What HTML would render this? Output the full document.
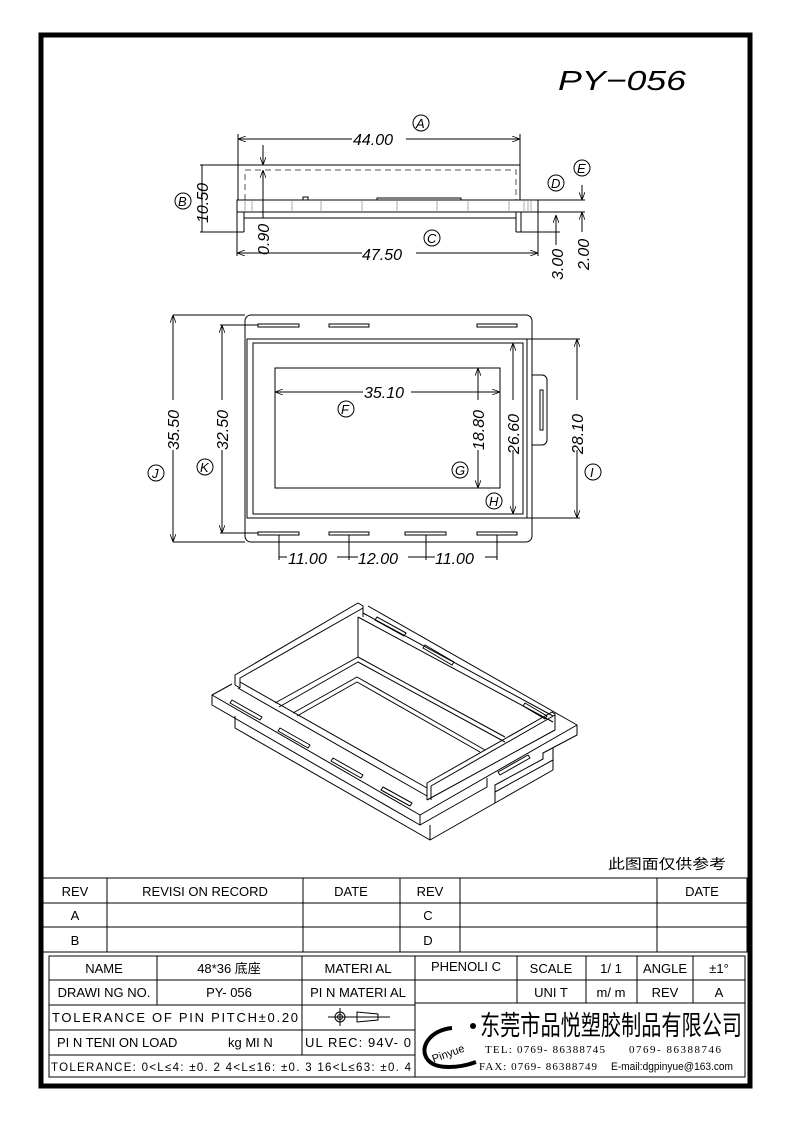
<!DOCTYPE html>
<html><head><meta charset="utf-8"><style>
html,body{margin:0;padding:0;background:#fff;}
svg{display:block;}
text{font-family:"Liberation Sans","Noto Sans CJK SC",sans-serif;fill:#000;}
.t{font-family:"Liberation Serif","Noto Serif CJK SC",serif;}
</style></head><body>
<svg width="793" height="1123" viewBox="0 0 793 1123" xmlns="http://www.w3.org/2000/svg">
<defs>
<marker id="a" markerWidth="8" markerHeight="6" refX="8" refY="3" orient="auto-start-reverse" markerUnits="userSpaceOnUse"><path d="M0,0 L8,3 L0,6" fill="none" stroke="#000" stroke-width="0.8"/></marker>
</defs>
<rect x="0" y="0" width="793" height="1123" fill="#fff"/>
<rect x="41" y="35" width="709" height="1051" fill="none" stroke="#000" stroke-width="5"/>
<text x="558" y="90" font-size="28" font-style="italic" textLength="128" lengthAdjust="spacingAndGlyphs">PY−056</text>

<!-- TOP VIEW -->
<g fill="none" stroke="#000" stroke-width="1">
<line x1="238" y1="139" x2="520" y2="139" marker-start="url(#a)" marker-end="url(#a)"/>
<line x1="238" y1="134" x2="238" y2="200"/>
<line x1="520" y1="134" x2="520" y2="200"/>
<line x1="200" y1="165" x2="520" y2="165"/>
<path d="M245,200 V170 H516 V200" stroke-dasharray="6,4" stroke="#555"/>
<rect x="237" y="200" width="301" height="12"/>
<line x1="244" y1="212" x2="244" y2="232"/>
<line x1="237" y1="212" x2="237" y2="256"/>
<line x1="516" y1="212" x2="516" y2="232"/>
<line x1="521" y1="212" x2="521" y2="232"/>
<line x1="538" y1="212" x2="538" y2="256"/>
<line x1="200" y1="232" x2="244" y2="232"/>
<line x1="516" y1="232" x2="560" y2="232"/>
<line x1="244" y1="218" x2="516" y2="218"/>
<line x1="237" y1="253" x2="538" y2="253" marker-start="url(#a)" marker-end="url(#a)"/>
<line x1="202" y1="165" x2="202" y2="232"/>
<line x1="263" y1="145" x2="263" y2="165" marker-end="url(#a)"/>
<line x1="263" y1="218" x2="263" y2="170" marker-end="url(#a)"/>
<line x1="538" y1="200" x2="585" y2="200"/>
<line x1="538" y1="212" x2="585" y2="212"/>
<line x1="582" y1="185" x2="582" y2="200" marker-end="url(#a)"/>
<line x1="582" y1="232" x2="582" y2="212" marker-end="url(#a)"/>
<line x1="556" y1="245" x2="556" y2="232"/>
<line x1="556" y1="215" x2="556" y2="232" marker-start="url(#a)"/>
<path d="M303,200 v-3 h5 v3 M377,200 v-2 h84 v2"/>
<g stroke="#888" stroke-width="0.7"><line x1="245" y1="200" x2="245" y2="212"/><line x1="252" y1="200" x2="252" y2="212"/><line x1="292" y1="200" x2="292" y2="212"/><line x1="321" y1="200" x2="321" y2="212"/><line x1="362" y1="200" x2="362" y2="212"/><line x1="397" y1="200" x2="397" y2="212"/><line x1="437" y1="200" x2="437" y2="212"/><line x1="468" y1="200" x2="468" y2="212"/><line x1="509" y1="200" x2="509" y2="212"/><line x1="524" y1="200" x2="524" y2="212"/><line x1="528" y1="200" x2="528" y2="212"/><line x1="531" y1="200" x2="531" y2="212"/></g>
<circle cx="421" cy="123" r="8"/><circle cx="183" cy="201" r="8"/><circle cx="432" cy="238" r="8"/><circle cx="556" cy="183" r="8"/><circle cx="582" cy="168" r="8"/>
</g>
<g font-size="16" font-style="italic">
<rect x="352" y="131" width="54" height="14" fill="#fff"/>
<text x="353" y="145">44.00</text>
<rect x="362" y="246" width="54" height="14" fill="#fff"/>
<text x="362" y="260">47.50</text>
<text transform="translate(208,223) rotate(-90)">10.50</text>
<text transform="translate(269,255) rotate(-90)">0.90</text>
<text transform="translate(563,280) rotate(-90)">3.00</text>
<text transform="translate(589,270) rotate(-90)">2.00</text>
</g>
<g font-size="13" font-style="italic" class="t">
<text x="416" y="128">A</text><text x="178" y="206">B</text><text x="427" y="243">C</text><text x="551" y="188">D</text><text x="577" y="173">E</text>
</g>

<!-- MIDDLE VIEW -->
<g fill="none" stroke="#000" stroke-width="1">
<rect x="245" y="315" width="287" height="227" rx="6"/>
<rect x="247" y="339" width="280" height="179"/>
<rect x="253" y="343" width="270" height="171"/>
<path d="M532,375 h10 a5,5 0 0 1 5,5 v60 a5,5 0 0 1 -5,5 h-10"/>
<rect x="540" y="390" width="3" height="40"/>
<rect x="275" y="368" width="225" height="120"/>
<rect x="258" y="324" width="41" height="3"/><rect x="329" y="324" width="40" height="3"/><rect x="477" y="324" width="40" height="3"/>
<rect x="258" y="532" width="41" height="3"/><rect x="329" y="532" width="40" height="3"/><rect x="405" y="532" width="41" height="3"/><rect x="477" y="532" width="40" height="3"/>
<line x1="173" y1="315" x2="245" y2="315"/><line x1="173" y1="542" x2="245" y2="542"/>
<line x1="173" y1="315" x2="173" y2="542" marker-start="url(#a)" marker-end="url(#a)"/>
<line x1="220" y1="325" x2="258" y2="325"/><line x1="220" y1="533" x2="258" y2="533"/>
<line x1="222" y1="325" x2="222" y2="533" marker-start="url(#a)" marker-end="url(#a)"/>
<line x1="275" y1="392" x2="500" y2="392" marker-start="url(#a)" marker-end="url(#a)"/>
<line x1="478" y1="368" x2="478" y2="488" marker-start="url(#a)" marker-end="url(#a)"/>
<line x1="513" y1="343" x2="513" y2="514" marker-start="url(#a)" marker-end="url(#a)"/>
<line x1="527" y1="339" x2="580" y2="339"/><line x1="527" y1="518" x2="580" y2="518"/>
<line x1="577" y1="339" x2="577" y2="518" marker-start="url(#a)" marker-end="url(#a)"/>
<line x1="279" y1="535" x2="279" y2="560"/><line x1="349" y1="535" x2="349" y2="560"/><line x1="426" y1="535" x2="426" y2="560"/><line x1="497" y1="535" x2="497" y2="560"/>
<line x1="279" y1="557" x2="497" y2="557"/>
<circle cx="156" cy="473" r="8"/><circle cx="205" cy="467" r="8"/><circle cx="346" cy="409" r="8"/><circle cx="460" cy="470" r="8"/><circle cx="494" cy="501" r="8"/><circle cx="593" cy="472" r="8"/>
</g>
<g font-size="16" font-style="italic">
<rect x="363" y="384" width="48" height="16" fill="#fff"/><text x="364" y="398">35.10</text>
<rect x="166" y="400" width="14" height="50" fill="#fff"/><text transform="translate(179,450) rotate(-90)">35.50</text>
<rect x="215" y="400" width="14" height="50" fill="#fff"/><text transform="translate(228,450) rotate(-90)">32.50</text>
<rect x="471" y="400" width="14" height="50" fill="#fff"/><text transform="translate(484,450) rotate(-90)">18.80</text>
<rect x="506" y="400" width="14" height="50" fill="#fff"/><text transform="translate(519,454) rotate(-90)">26.60</text>
<rect x="570" y="400" width="14" height="50" fill="#fff"/><text transform="translate(583,454) rotate(-90)">28.10</text>
<rect x="287" y="550" width="50" height="14" fill="#fff"/><text x="288" y="564">11.00</text>
<rect x="358" y="550" width="50" height="14" fill="#fff"/><text x="358" y="564">12.00</text>
<rect x="435" y="550" width="50" height="14" fill="#fff"/><text x="435" y="564">11.00</text>
</g>
<g font-size="13" font-style="italic" class="t">
<text x="152" y="478">J</text><text x="200" y="472">K</text><text x="341" y="414">F</text><text x="455" y="475">G</text><text x="489" y="506">H</text><text x="590" y="477">I</text>
</g>

<!-- ISOMETRIC -->
<g fill="none" stroke="#000" stroke-width="1" stroke-linejoin="round">
<!-- plate -->
<path d="M232,684 L212,695 V705 L420,825 V815 L212,695"/>
<path d="M420,815 L577,725 V735 L543,753 V759 L495,785 V792"/>
<path d="M420,825 L487,787 V778"/>
<path d="M368,606 L577,725"/>
<!-- lower block -->
<path d="M235,716 V728 L430,840 V825"/>
<path d="M430,840 L495,803 V792 L553,760 V748"/>
<path d="M553,770 V760 M553,770 L495,803"/>
<!-- left end wall -->
<path d="M235,685 V675 L358,603 L363,606 V617"/>
<path d="M240,688 V678 L363,608"/>
<path d="M235,685 L240,688"/>
<line x1="358" y1="617" x2="358" y2="657"/>
<line x1="358" y1="617" x2="553" y2="722"/>
<line x1="363" y1="613" x2="553" y2="716"/>
<!-- front lip -->
<path d="M238,688 L427,796"/>
<path d="M240,682 L427,788"/>
<!-- right end wall -->
<path d="M427,800 V783 L552,712 L555,714 V730 L427,800"/>
<path d="M431,786 L555,715"/>
<path d="M431,786 V800"/>
<!-- floor frame -->
<path d="M275,703 L358,657 L505,737"/>
<path d="M279,707 L358,662 L505,742"/>
<path d="M293,713 L357,677 L485,750"/>
<path d="M297,716 L357,682 L480,752"/>
<!-- slots -->
<g stroke-width="1">
<path d="M232,700 L262,717 L260,720 L230,703 Z"/>
<path d="M280,728 L310,745 L308,748 L278,731 Z"/>
<path d="M333,758 L363,775 L361,778 L331,761 Z"/>
<path d="M383,787 L412,803 L410,806 L381,790 Z"/>
<path d="M377,617 L406,633 L404,636 L375,620 Z"/>
<path d="M425,645 L454,662 L452,665 L423,648 Z"/>
<path d="M525,703 L547,716 L545,719 L523,706 Z"/>
<path d="M498,772 L528,755 L530,758 L500,775 Z"/>
</g>
</g>

<text x="608" y="869" font-size="14" textLength="118" lengthAdjust="spacingAndGlyphs">此图面仅供参考</text>

<!-- REVISION TABLE -->
<g fill="none" stroke="#000" stroke-width="1">
<rect x="43" y="878" width="704" height="74"/>
<line x1="43" y1="903" x2="747" y2="903"/><line x1="43" y1="927" x2="747" y2="927"/>
<line x1="107" y1="878" x2="107" y2="952"/><line x1="303" y1="878" x2="303" y2="952"/><line x1="400" y1="878" x2="400" y2="952"/><line x1="460" y1="878" x2="460" y2="952"/><line x1="657" y1="878" x2="657" y2="952"/>
</g>
<g class="t" font-size="13" text-anchor="middle">
<text x="75" y="896">REV</text><text x="205" y="896">REVISI ON RECORD</text><text x="351" y="896">DATE</text><text x="430" y="896">REV</text><text x="702" y="896">DATE</text>
<text x="75" y="920">A</text><text x="428" y="920">C</text><text x="75" y="945">B</text><text x="428" y="945">D</text>
</g>

<!-- TITLE TABLE -->
<g fill="none" stroke="#000" stroke-width="1">
<rect x="49" y="956" width="696" height="121"/>
<line x1="49" y1="980" x2="745" y2="980"/>
<line x1="49" y1="1005" x2="415" y2="1005"/><line x1="415" y1="1003" x2="745" y2="1003"/>
<line x1="49" y1="1030" x2="415" y2="1030"/><line x1="49" y1="1055" x2="415" y2="1055"/>
<line x1="157" y1="956" x2="157" y2="1005"/>
<line x1="302" y1="956" x2="302" y2="1055"/>
<line x1="415" y1="956" x2="415" y2="1077"/>
<line x1="517" y1="956" x2="517" y2="1003"/><line x1="586" y1="956" x2="586" y2="1003"/><line x1="637" y1="956" x2="637" y2="1003"/><line x1="693" y1="956" x2="693" y2="1003"/>
<circle cx="340" cy="1017" r="5"/><circle cx="340" cy="1017" r="2.5"/>
<line x1="328" y1="1017" x2="390" y2="1017"/><line x1="340" y1="1008" x2="340" y2="1026"/>
<path d="M357,1012 V1022 L378,1020 V1014 Z"/>
</g>
<g class="t" font-size="13" text-anchor="middle">
<text x="104" y="973">NAME</text><text x="229" y="973">48*36 底座</text><text x="358" y="973">MATERI AL</text><text x="466" y="971">PHENOLI C</text><text x="551" y="973">SCALE</text><text x="611" y="973">1/ 1</text><text x="665" y="973">ANGLE</text><text x="719" y="973">±1°</text>
<text x="104" y="997">DRAWI NG NO.</text><text x="229" y="997">PY- 056</text><text x="358" y="997">PI N MATERI AL</text><text x="551" y="997">UNI T</text><text x="611" y="997">m/ m</text><text x="665" y="997">REV</text><text x="719" y="997">A</text>
</g>
<g class="t" font-size="13">
<text x="52" y="1022" textLength="246" lengthAdjust="spacing">TOLERANCE OF PIN PITCH±0.20</text>
<text x="57" y="1047">PI N TENI ON LOAD</text><text x="228" y="1047">kg  MI N</text>
<text x="305" y="1047" textLength="106" lengthAdjust="spacing">UL REC: 94V- 0</text>
<text x="51" y="1071" font-size="11.5" textLength="360" lengthAdjust="spacing">TOLERANCE: 0&lt;L≤4: ±0. 2  4&lt;L≤16: ±0. 3   16&lt;L≤63: ±0. 4</text>
</g>
<path d="M452,1028 C430,1030 418,1048 428,1060 C436,1070 460,1068 476,1062" fill="none" stroke="#000" stroke-width="4"/>
<circle cx="473" cy="1026" r="3" fill="#000"/>
<text x="430" y="1058" font-size="11" transform="rotate(-20 445 1050)">Pinyue</text>
<text x="480" y="1035" font-size="27" font-family="'Noto Sans CJK SC',sans-serif" textLength="262" lengthAdjust="spacingAndGlyphs">东莞市品悦塑胶制品有限公司</text>
<text class="t" x="485" y="1053" font-size="11" textLength="120" lengthAdjust="spacing">TEL: 0769- 86388745</text>
<text class="t" x="629" y="1053" font-size="11" textLength="92" lengthAdjust="spacing">0769- 86388746</text>
<text class="t" x="479" y="1070" font-size="11" textLength="118" lengthAdjust="spacing">FAX: 0769- 86388749</text>
<text x="611" y="1070" font-size="11" textLength="122" lengthAdjust="spacingAndGlyphs">E-mail:dgpinyue@163.com</text>
</svg>
</body></html>
